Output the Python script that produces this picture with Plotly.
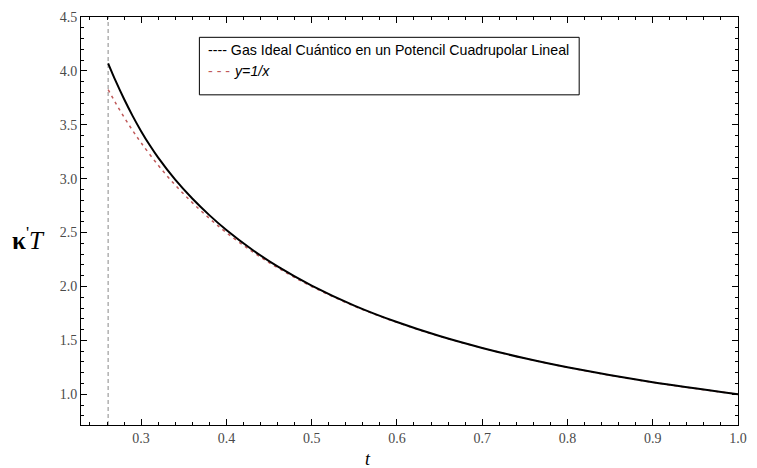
import plotly.graph_objects as go

# ---- data ----
t_black = [0.2613, 0.27, 0.28, 0.29, 0.30, 0.31, 0.32, 0.34, 0.36, 0.38,
           0.40, 0.43, 0.46, 0.50, 0.55, 0.60, 0.65, 0.70, 0.75, 0.80, 0.90, 1.00]
k_black = [4.070, 3.909, 3.739, 3.583, 3.441, 3.312, 3.195, 2.991, 2.816, 2.662,
           2.524, 2.343, 2.186, 2.008, 1.823, 1.670, 1.540, 1.430, 1.334, 1.2505, 1.111, 1.000]

t_red = [0.2613, 0.27, 0.28, 0.29, 0.30, 0.32, 0.34, 0.36, 0.38, 0.40, 0.43, 0.46,
         0.50, 0.55, 0.60, 0.65, 0.70, 0.75, 0.80, 0.85, 0.90, 0.95, 1.00]
k_red = [3.827, 3.704, 3.571, 3.448, 3.333, 3.125, 2.941, 2.778, 2.632, 2.500, 2.326, 2.174,
         2.000, 1.818, 1.667, 1.538, 1.429, 1.333, 1.250, 1.176, 1.111, 1.053, 1.000]

t_limit = 0.2613
x_ticks = [0.3, 0.4, 0.5, 0.6, 0.7, 0.8, 0.9, 1.0]
y_ticks = [1.0, 1.5, 2.0, 2.5, 3.0, 3.5, 4.0, 4.5]
x_range = [0.2295, 1.0]
y_range = [0.715, 4.5]

legend_main = "---- Gas Ideal Cuántico en un Potencil Cuadrupolar Lineal"
legend_red = "y=1/x"

# ---- layout geometry (pixels) ----
W, H = 757, 468
L, R, T, B = 81, 747, 13.5, 425


def px(xp):
    return (xp - L) / (R - L)


def py(yp):
    return (B - yp) / (B - T)


fig = go.Figure()
fig.add_trace(go.Scatter(x=[t_limit, t_limit], y=y_range, mode="lines",
                         line=dict(color="#888888", width=1, dash="4px,3px"),
                         showlegend=False, hoverinfo="skip"))
fig.add_trace(go.Scatter(x=t_red, y=k_red, mode="lines", line_shape="spline",
                         line=dict(color="#c05a5a", width=1.5, dash="3px,4px"),
                         showlegend=False))
fig.add_trace(go.Scatter(x=t_black, y=k_black, mode="lines", line_shape="spline",
                         line=dict(color="black", width=2, smoothing=0.8),
                         showlegend=False))

tickfont = dict(family="Liberation Serif, Times New Roman, serif", size=14, color="#4a4a4a")
common = dict(showline=True, linecolor="black", linewidth=1, mirror="allticks",
              ticks="inside", ticklen=6, tickcolor="black", tickwidth=1,
              showgrid=False, zeroline=False, tickfont=tickfont)

fig.update_xaxes(range=x_range, tickvals=x_ticks, ticktext=[f"{v:.1f}" for v in x_ticks],
                 minor=dict(ticks="inside", ticklen=3, dtick=0.02, tick0=0.3,
                            tickcolor="black", showgrid=False),
                 **common)
fig.update_yaxes(range=y_range, tickvals=y_ticks, ticktext=[f"{v:.1f}" for v in y_ticks],
                 minor=dict(ticks="inside", ticklen=3, dtick=0.1, tick0=1.0,
                            tickcolor="black", showgrid=False),
                 **common)

fig.update_layout(width=W, height=H, margin=dict(l=L, r=W - R, t=T, b=H - B),
                  paper_bgcolor="white", plot_bgcolor="white", showlegend=False)

# legend box
fig.add_shape(type="rect", xref="paper", yref="paper",
              x0=px(201), x1=px(586), y0=py(92), y1=py(34),
              line=dict(color="black", width=1), fillcolor="white", layer="above")
lfont = dict(family="Liberation Sans, Arial, sans-serif", size=14.2, color="black")
fig.add_annotation(xref="paper", yref="paper", x=px(208), y=py(47), xanchor="left",
                   yanchor="middle", text=legend_main, showarrow=False, font=lfont)
fig.add_annotation(xref="paper", yref="paper", x=px(208), y=py(68), xanchor="left",
                   yanchor="middle", text="- - -", showarrow=False,
                   font=dict(family="Liberation Sans, Arial, sans-serif", size=14.2, color="#c05a5a"))
fig.add_annotation(xref="paper", yref="paper", x=px(234), y=py(68), xanchor="left",
                   yanchor="middle", text="<i>" + legend_red + "</i>", showarrow=False, font=lfont)

# axis titles
fig.add_annotation(xref="paper", yref="paper", x=px(372), y=py(459), xanchor="center",
                   yanchor="middle", text="<i>t</i>", showarrow=False,
                   font=dict(family="Liberation Serif, Times New Roman, serif", size=18, color="black"))
fig.add_annotation(xref="paper", yref="paper", x=px(28), y=py(236), xanchor="center",
                   yanchor="middle", text="<b>κ</b><sup>'</sup><i>T</i>", showarrow=False,
                   font=dict(family="Liberation Serif, Times New Roman, serif", size=25, color="black"))

fig.write_html("out.html")
